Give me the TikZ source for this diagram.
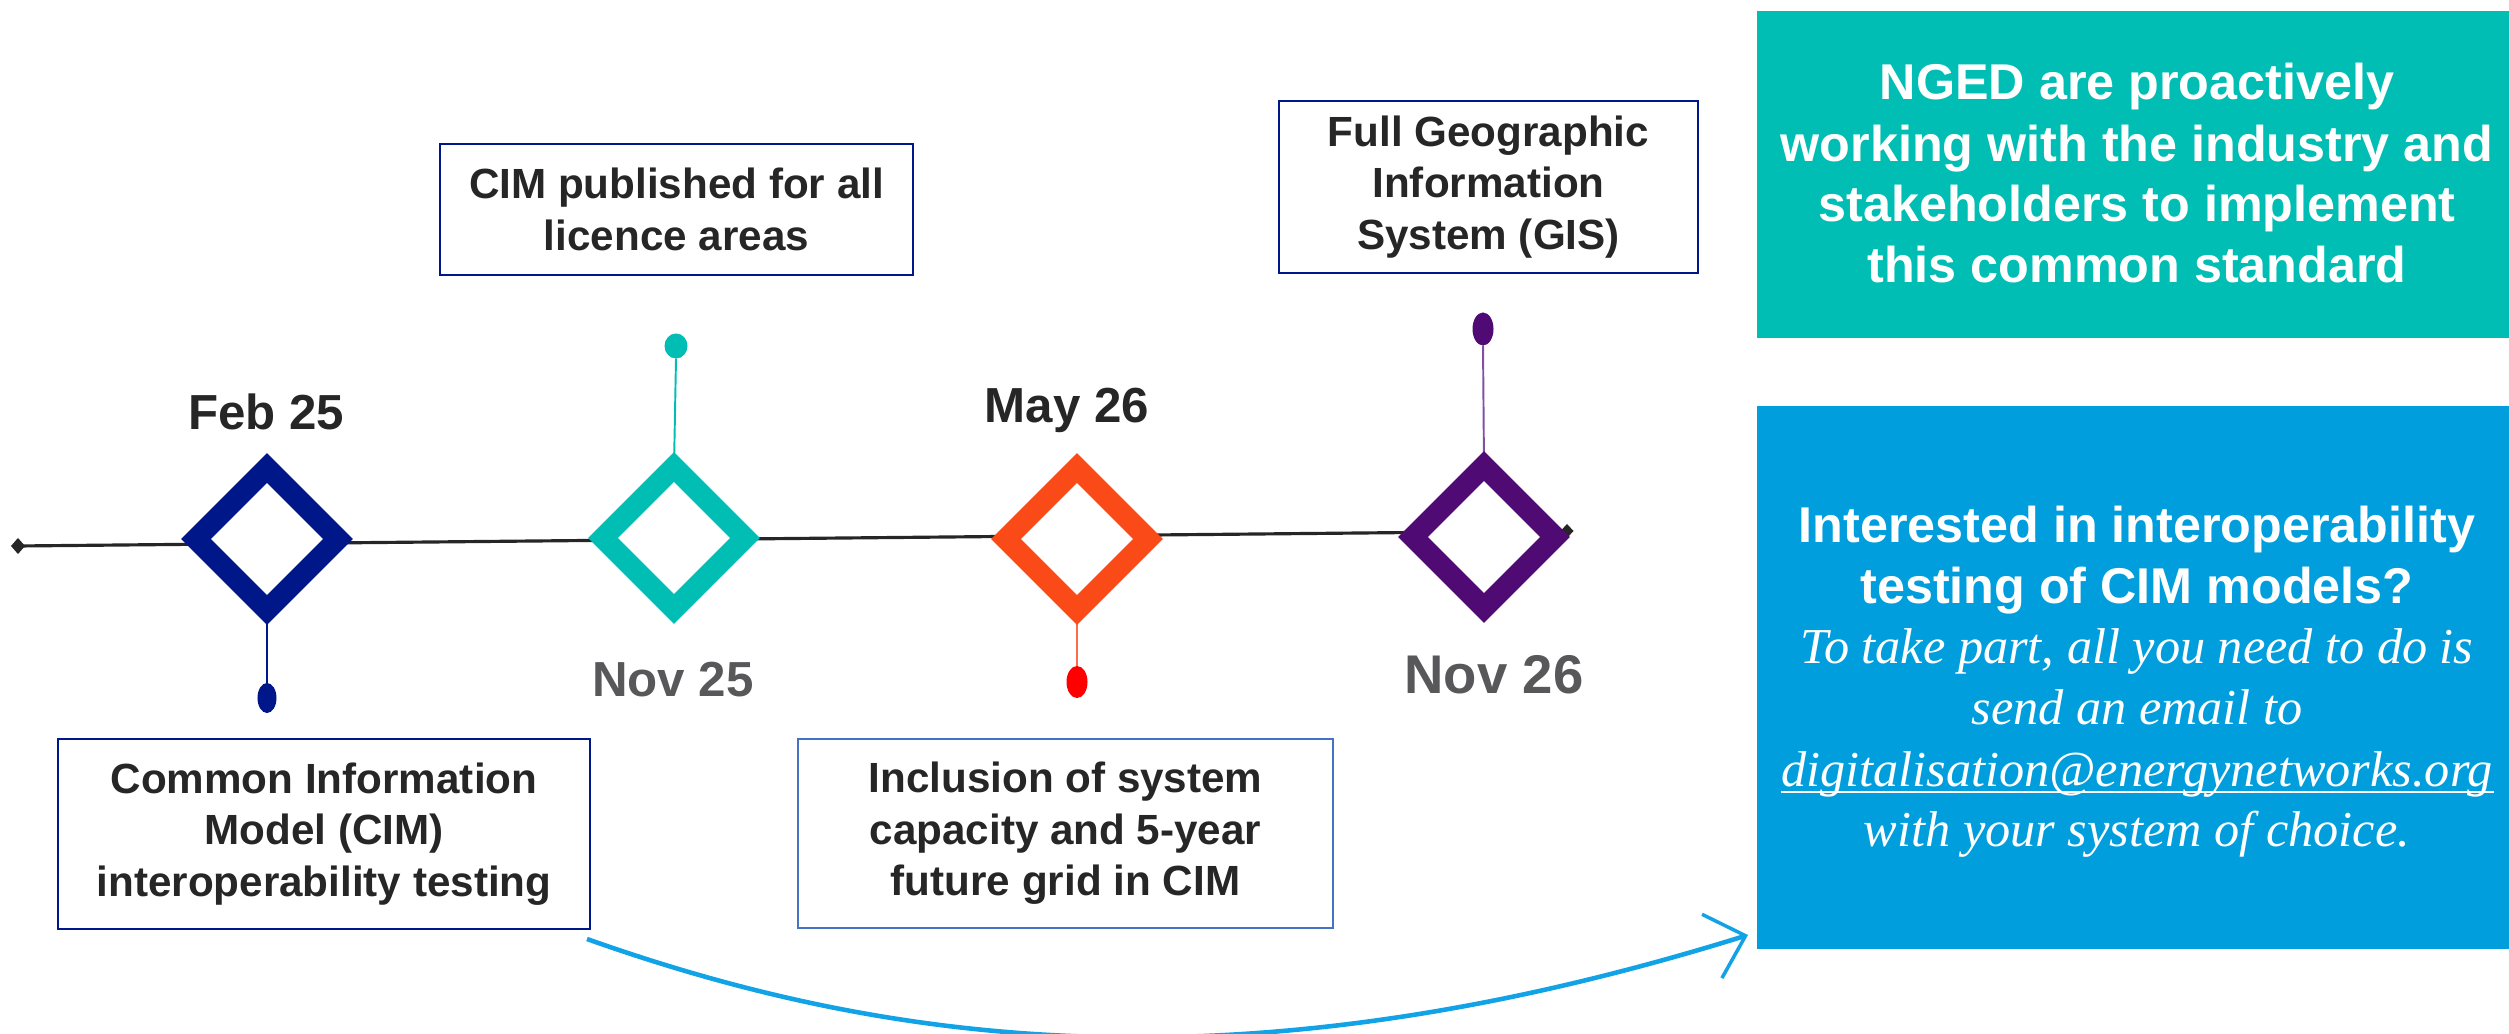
\documentclass[tikz,border=0pt]{standalone}
\usepackage{fontspec}
\setmainfont{Liberation Sans}
\newfontfamily\serifit{Liberation Serif}
\usetikzlibrary{shapes.geometric,arrows.meta}
\pgfdeclarelayer{background}
\pgfsetlayers{background,main}
\definecolor{navyc}{HTML}{00178A}
\definecolor{tealc}{HTML}{00BEB4}
\definecolor{orangec}{HTML}{FA4A18}
\definecolor{purplec}{HTML}{500A73}
\definecolor{purpleln}{HTML}{8050A8}
\definecolor{orangeln}{HTML}{FF6A4A}
\definecolor{redc}{HTML}{FF0000}
\definecolor{bluebox}{HTML}{009EDD}
\definecolor{arrowc}{HTML}{12A3E6}
\definecolor{inclc}{HTML}{4472C4}
\definecolor{darktext}{HTML}{262626}
\definecolor{graytext}{HTML}{58585A}
\definecolor{darkline}{HTML}{262626}
\begin{document}
\begin{tikzpicture}[x=0.01cm,y=-0.01cm,
  mile/.style={diamond, aspect=1, draw=#1, line width=5.98pt, fill=white,
    minimum width=1.42cm, minimum height=1.42cm, inner sep=0pt, outer sep=0pt},
  pinline/.style={draw=#1, line width=0.55pt},
  pinhead/.style={ellipse, fill=#1, inner sep=0pt, outer sep=0pt},
  marker/.style={diamond, fill=darkline, inner sep=0pt, outer sep=0pt},
  tline/.style={draw=darkline, line width=0.9pt},
  labelbox/.style={draw=#1, line width=0.7pt, align=center, inner sep=0pt,
    font=\fontsize{12pt}{14.6pt}\selectfont\bfseries, text=darktext},
  datelbl/.style={font=\fontsize{14pt}{16pt}\selectfont\bfseries, text=#1, inner sep=0pt, anchor=base},
  wbold/.style={font=\fontsize{14.3pt}{17pt}\selectfont\bfseries, text=white, inner sep=0pt, anchor=base},
  wital/.style={font=\fontsize{14.3pt}{17pt}\selectfont\serifit\itshape, text=white, inner sep=0pt, anchor=base},
  arr/.style={draw=arrowc, line width=1.3pt, -{Straight Barb[length=10pt,width=19pt,line width=1pt]}}
]
\useasboundingbox (0,0) rectangle (2509,1034);

% end markers
\node[marker, minimum width=0.14cm, minimum height=0.16cm] (ml) at (18,546) {};
\node[marker, minimum width=0.13cm, minimum height=0.14cm] (mr) at (1567,531) {};

% milestones
\node[mile=navyc] (d1) at (267,539) {};
\node[mile=tealc] (d2) at (674,538) {};
\node[mile=orangec] (d3) at (1077,539) {};
\node[mile=purplec] (d4) at (1484,537) {};

% pin heads
\node[pinhead=navyc, minimum width=0.19cm, minimum height=0.30cm] (e1) at (267,698) {};
\node[pinhead=tealc, minimum width=0.23cm, minimum height=0.25cm] (e2) at (676,346) {};
\node[pinhead=redc, minimum width=0.21cm, minimum height=0.32cm] (e3) at (1077,682) {};
\node[pinhead=purplec, minimum width=0.21cm, minimum height=0.33cm] (e4) at (1483,329) {};

\begin{pgfonlayer}{background}
  \draw[tline] (ml.center) -- (mr.center);
  \draw[pinline=navyc] (d1.south) -- (e1.north);
  \draw[pinline=tealc] (d2.north) -- (e2.south);
  \draw[pinline=orangeln] (d3.south) -- (e3.north);
  \draw[pinline=purpleln] (d4.north) -- (e4.south);
\end{pgfonlayer}

% date labels
\node[datelbl=darktext] (l1) at (266,430) {Feb 25};
\node[datelbl=graytext] (l2) at (673,697) {Nov 25};
\node[datelbl=darktext] (l3) at (1067,423) {May 26};
\node[datelbl=graytext, font=\fontsize{15.5pt}{17pt}\selectfont\bfseries] (l4) at (1494,694) {Nov 26};

% event boxes
\node[labelbox=navyc, minimum width=4.73cm, minimum height=1.31cm] (b2) at (676.5,209.5)
  {CIM published for all\\licence areas};
\node[labelbox=navyc, minimum width=4.19cm, minimum height=1.72cm] (b4) at (1488.5,187)
  {Full Geographic\\Information\\System (GIS)};
\node[labelbox=navyc, minimum width=5.32cm, minimum height=1.90cm] (b1) at (324,834)
  {Common Information\\Model (CIM)\\interoperability testing};
\node[labelbox=inclc, minimum width=5.35cm, minimum height=1.89cm] (b3) at (1065.5,833.5)
  {Inclusion of system\\capacity and 5-year\\future grid in CIM};

% right panels
\node[fill=tealc, minimum width=7.53cm, minimum height=3.27cm, inner sep=0pt, anchor=north west] (tb) at (1756,10) {};
\node[wbold] (t1) at (2137,100) {NGED are proactively};
\node[wbold] (t2) at (2137,162) {working with the industry and};
\node[wbold] (t3) at (2137,222) {stakeholders to implement};
\node[wbold] (t4) at (2137,283) {this common standard};

\node[fill=bluebox, minimum width=7.53cm, minimum height=5.43cm, inner sep=0pt, anchor=north west] (bb) at (1756,405) {};
\node[wbold] (u1) at (2137,543) {Interested in interoperability};
\node[wbold] (u2) at (2137,604) {testing of CIM models?};
\node[wital] (u3) at (2137,664) {To take part, all you need to do is};
\node[wital] (u4) at (2137,725) {send an email to};
\node[wital] (u5) at (2137,786) {digitalisation@energynetworks.org};
\node[wital] (u6) at (2137,846) {with your system of choice.};
\draw[white, line width=0.6pt] ([yshift=-1.7pt]u5.base west) -- ([yshift=-1.7pt]u5.base east);

% curved arrow
\coordinate (as) at (587,939);
\coordinate (ae) at (1748,935);
\draw[arr] (as) .. controls (900,1050) and (1250,1090) .. (ae);
\end{tikzpicture}
\end{document}
